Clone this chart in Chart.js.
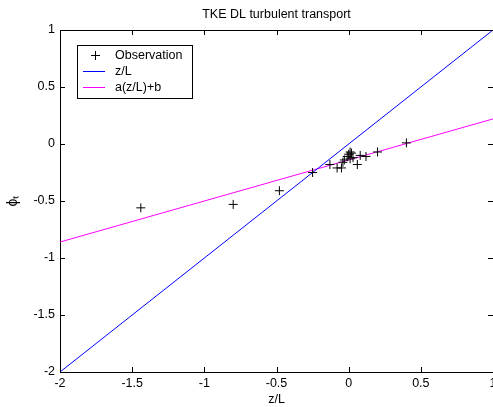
<!DOCTYPE html>
<html>
<head>
<meta charset="utf-8">
<script src="https://cdn.jsdelivr.net/npm/chart.js@4"></script>
<style>
html,body{margin:0;padding:0;background:#fff;}
#wrap{width:493px;height:407px;}
</style>
</head>
<body>
<div id="wrap"><canvas id="c" width="493" height="407"></canvas></div>
<script>
// Data
const obsX = [-1.44, -0.80, -0.48, -0.25, -0.13, -0.08, -0.05, -0.04, -0.03, -0.01, 0.00, 0.01, 0.02, 0.01, 0.03, 0.06, 0.08, 0.12, 0.20, 0.40];
const obsY = [-0.56, -0.53, -0.41, -0.25, -0.18, -0.21, -0.21, -0.16, -0.14, -0.11, -0.09, -0.07, -0.08, -0.13, -0.12, -0.18, -0.10, -0.11, -0.07, 0.01];
const lineX = [-2, 1];
const oneToOneY = [-2, 1];
const fitY = [-0.86, 0.22];
const seriesLabels = ['Observation', 'z/L', 'a(z/L)+b'];
const titleText = 'TKE DL turbulent transport';
const xTitle = 'z/L';
const yTitle = 'ϕₜ';
const axisMin = -2, axisMax = 1, axisStep = 0.5;

const FONT = 'Liberation Sans, Arial, sans-serif';
const FS = 12.5;

const toPts = (xs, ys) => xs.map((x, i) => ({x: x, y: ys[i]}));
const fmt = v => String(Math.round(v * 10) / 10);

const decor = {
  id: 'decor',
  afterDraw(chart) {
    const ctx = chart.ctx;
    const a = chart.chartArea;
    const xs = chart.scales.x, ys = chart.scales.y;
    ctx.save();
    ctx.strokeStyle = '#000';
    ctx.lineWidth = 1;
    ctx.beginPath();
    ctx.moveTo(a.left, Math.round(a.top) + 0.5);
    ctx.lineTo(a.right, Math.round(a.top) + 0.5);
    ctx.stroke();
    const tl = 5;
    ctx.beginPath();
    xs.ticks.forEach(t => {
      const px = Math.round(xs.getPixelForValue(t.value)) + 0.5;
      ctx.moveTo(px, a.bottom); ctx.lineTo(px, a.bottom - tl);
      ctx.moveTo(px, a.top); ctx.lineTo(px, a.top + tl);
    });
    ys.ticks.forEach(t => {
      const py = Math.round(ys.getPixelForValue(t.value)) + 0.5;
      ctx.moveTo(a.left, py); ctx.lineTo(a.left + tl, py);
      ctx.moveTo(a.right, py); ctx.lineTo(a.right - tl, py);
    });
    ctx.stroke();
    ctx.fillStyle = '#000';
    ctx.font = FS + 'px ' + FONT;
    ctx.textAlign = 'center';
    ctx.textBaseline = 'middle';
    ctx.fillText(titleText, (a.left + a.right) / 2, 15);
    const bx = 77.5, by = 45.5, bw = 115, bh = 53;
    ctx.fillStyle = '#fff';
    ctx.fillRect(bx, by, bw, bh);
    ctx.strokeRect(bx, by, bw, bh);
    const rows = [55.5, 71.5, 87.5];
    chart.data.datasets.forEach((ds, i) => {
      const y = rows[i];
      ctx.strokeStyle = ds.borderColor;
      ctx.beginPath();
      if (i === 0) {
        ctx.moveTo(95.5, y - 4.5); ctx.lineTo(95.5, y + 4.5);
        ctx.moveTo(91, y); ctx.lineTo(100, y);
      } else {
        ctx.moveTo(83, y); ctx.lineTo(105, y);
      }
      ctx.stroke();
      ctx.fillStyle = '#000';
      ctx.textAlign = 'left';
      ctx.fillText(ds.label, 115, y);
    });
    ctx.restore();
  }
};

new Chart(document.getElementById('c'), {
  type: 'scatter',
  data: {
    datasets: [
      {
        label: seriesLabels[0],
        data: toPts(obsX, obsY),
        showLine: false,
        pointStyle: 'cross',
        pointRadius: 4.5,
        borderColor: '#000000',
        backgroundColor: '#000000',
        borderWidth: 1
      },
      {
        label: seriesLabels[1],
        data: toPts(lineX, oneToOneY),
        showLine: true,
        pointRadius: 0,
        borderColor: '#0000ff',
        borderWidth: 1
      },
      {
        label: seriesLabels[2],
        data: toPts(lineX, fitY),
        showLine: true,
        pointRadius: 0,
        borderColor: '#ff00ff',
        borderWidth: 1
      }
    ]
  },
  options: {
    responsive: false,
    animation: false,
    devicePixelRatio: 1,
    layout: {autoPadding: false, padding: {top: 30, left: 0, right: 0, bottom: 0}},
    plugins: {
      legend: {display: false},
      title: {display: false},
      tooltip: {enabled: false}
    },
    scales: {
      x: {
        type: 'linear',
        min: axisMin, max: axisMax,
        ticks: {stepSize: axisStep, color: '#000', padding: 4, maxRotation: 0, autoSkip: false,
                font: {family: FONT, size: FS}, callback: fmt},
        grid: {display: true, drawOnChartArea: false, drawTicks: false, color: '#000'},
        border: {display: true, color: '#000', width: 1},
        title: {display: true, text: xTitle, color: '#000', font: {family: FONT, size: FS}, padding: {top: 0, bottom: 0}},
        afterFit(s) { s.height = 35; s.paddingLeft = 0; s.paddingRight = 0; }
      },
      y: {
        type: 'linear',
        min: axisMin, max: axisMax,
        ticks: {stepSize: axisStep, color: '#000', padding: 5, autoSkip: false,
                font: {family: FONT, size: FS}, callback: fmt},
        grid: {display: true, drawOnChartArea: false, drawTicks: false, color: '#000'},
        border: {display: true, color: '#000', width: 1},
        title: {display: true, text: yTitle, color: '#000', font: {family: FONT, size: 14}, padding: {top: 5, bottom: 0}},
        afterFit(s) { s.width = 60; s.paddingTop = 0; s.paddingBottom = 0; }
      }
    }
  },
  plugins: [decor]
});
</script>
</body>
</html>
